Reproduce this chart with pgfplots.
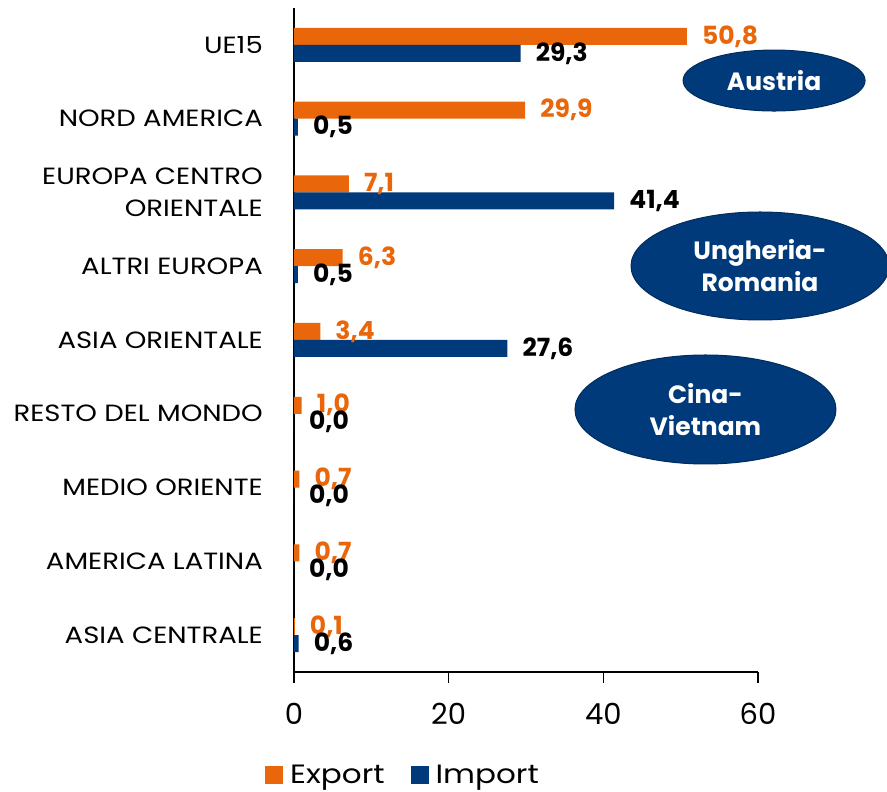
\documentclass[border=0pt]{standalone}
\usepackage{fontspec}
\setmainfont{Poppins}
\newfontfamily\widefont{Poppins}[FakeStretch=1.17]
\usepackage{pgfplots}
\pgfplotsset{compat=1.18}
\usetikzlibrary{shapes.geometric}
\definecolor{expcol}{RGB}{233,102,10}
\definecolor{impcol}{RGB}{0,58,122}
\begin{document}
\begin{tikzpicture}
\path[use as bounding box] (-294pt,-120pt) rectangle (593pt,672pt);
\begin{axis}[
  scale only axis, width=464pt, height=664pt,
  xbar, bar width=17pt,
  xmin=0, xmax=60, ymin=-0.5, ymax=8.5,
  clip=false,
  axis x line*=bottom, axis y line*=left,
  axis line style={line width=1.5pt, -, black},
  xtick={0,20,40,60}, ytick={0,1,2,3,4,5,6,7,8},
  yticklabels={ASIA CENTRALE, AMERICA LATINA, MEDIO ORIENTE, RESTO DEL MONDO, ASIA ORIENTALE, ALTRI EUROPA, {EUROPA CENTRO\\ORIENTALE}, NORD AMERICA, UE15},
  ytick style={draw=none},
  xtick style={line width=1.5pt, black},
  tick align=outside, major tick length=11pt,
  /pgf/number format/assume math mode=true,
  xticklabel style={font=\fontsize{29}{36}\selectfont, inner sep=0pt, yshift=-20pt},
  yticklabel style={font=\widefont\fontsize{23.5}{32}\selectfont, align=right, inner sep=0pt, xshift=-20pt},
  nodes near coords={\pgfmathprintnumber[fixed,fixed zerofill,precision=1,use comma,assume math mode=true]{\pgfplotspointmeta}},
  nodes near coords style={font=\bfseries\fontsize{25}{30}\selectfont, inner sep=0pt, anchor=west, xshift=15pt},
  legend style={draw=none, fill=none, at={(-0.0625,-0.155)}, anchor=west, inner sep=0pt,
    font=\widefont\fontsize{26.5}{30}\selectfont, legend columns=2,
    /tikz/every odd column/.append style={column sep=5pt},
    /tikz/every even column/.append style={column sep=24pt}},
  legend image code/.code={\fill[#1] (0pt,-9pt) rectangle (18pt,9pt);},
]
\addplot[fill=expcol, draw=none, bar shift=8.5pt, every node near coord/.append style={text=expcol}] coordinates {
(50.8,8) (29.9,7) (7.1,6) (6.3,5) (3.4,4) (1.0,3) (0.7,2) (0.7,1) (0.1,0)};
\addlegendentry{Export}
\addplot[fill=impcol, draw=none, bar shift=-8.5pt, every node near coord/.append style={text=black}] coordinates {
(29.3,8) (0.5,7) (41.4,6) (0.5,5) (27.6,4) (0.0,3) (0.0,2) (0.0,1) (0.6,0)};
\addlegendentry{Import}
\tikzset{bub/.style={ellipse, fill=impcol, draw=impcol!75!black, line width=1pt, text=white, align=center, inner sep=0pt, font=\bfseries\fontsize{25}{32}\selectfont}}
\node[bub, minimum width=182pt, minimum height=61pt] at (axis cs:62.08,7.517) {Austria};
\node[bub, minimum width=258pt, minimum height=108pt] at (axis cs:60.26,5.003) {Ungheria-\\Romania};
\node[bub, minimum width=261pt, minimum height=109pt] at (axis cs:53.21,3.058) {Cina-\\Vietnam};
\end{axis}
\end{tikzpicture}
\end{document}
